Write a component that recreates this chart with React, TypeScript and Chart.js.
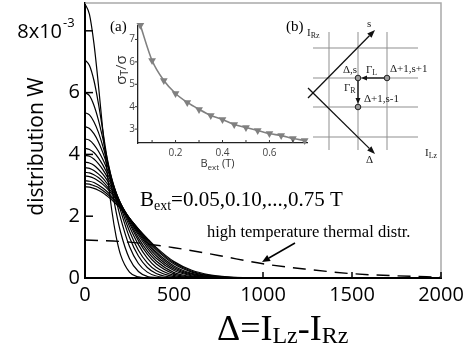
import React, { useEffect, useRef } from 'react';
import { Chart, registerables } from 'chart.js';
Chart.register(...registerables);

// ---------- data ----------
const deltaGrid = [0, 25, 50, 75, 100, 125, 150, 175, 200, 250, 300, 350, 400, 500, 600, 700, 800, 900, 1000, 2000];
const W_B005 = [8.87, 8.53, 7.6, 6.27, 4.78, 3.38, 2.21, 1.34, 0.75, 0.19, 0.034, 0.005, 0, 0, 0, 0, 0, 0, 0, 0];
const W_B010 = [7.05, 6.88, 6.4, 5.66, 4.77, 3.83, 2.93, 2.13, 1.48, 0.62, 0.21, 0.05, 0.014, 0, 0, 0, 0, 0, 0, 0];
const W_B015 = [6.0, 5.9, 5.59, 5.12, 4.52, 3.86, 3.18, 2.52, 1.94, 1.02, 0.47, 0.19, 0.065, 0.005, 0, 0, 0, 0, 0, 0];
const W_B020 = [5.35, 5.28, 5.06, 4.72, 4.27, 3.77, 3.23, 2.69, 2.18, 1.31, 0.71, 0.34, 0.147, 0.019, 0.002, 0, 0, 0, 0, 0];
const W_B025 = [4.9, 4.84, 4.67, 4.41, 4.06, 3.65, 3.21, 2.75, 2.31, 1.51, 0.9, 0.49, 0.24, 0.044, 0.006, 0, 0, 0, 0, 0];
const W_B030 = [4.5, 4.46, 4.32, 4.11, 3.84, 3.51, 3.15, 2.76, 2.38, 1.67, 1.08, 0.64, 0.35, 0.084, 0.015, 0.002, 0, 0, 0, 0];
const W_B035 = [4.2, 4.16, 4.06, 3.89, 3.66, 3.38, 3.08, 2.75, 2.41, 1.77, 1.21, 0.77, 0.46, 0.13, 0.029, 0.005, 0.001, 0, 0, 0];
const W_B040 = [3.97, 3.94, 3.85, 3.7, 3.51, 3.27, 3.01, 2.72, 2.42, 1.83, 1.3, 0.87, 0.55, 0.18, 0.046, 0.009, 0.001, 0, 0, 0];
const W_B045 = [3.75, 3.72, 3.65, 3.52, 3.36, 3.16, 2.92, 2.67, 2.41, 1.88, 1.39, 0.97, 0.64, 0.24, 0.07, 0.017, 0.003, 0, 0, 0];
const W_B050 = [3.57, 3.55, 3.48, 3.37, 3.23, 3.05, 2.85, 2.63, 2.39, 1.91, 1.45, 1.05, 0.72, 0.29, 0.097, 0.026, 0.006, 0.001, 0, 0];
const W_B055 = [3.42, 3.4, 3.34, 3.25, 3.12, 2.96, 2.78, 2.58, 2.37, 1.93, 1.5, 1.11, 0.79, 0.34, 0.125, 0.038, 0.01, 0.002, 0, 0];
const W_B060 = [3.3, 3.28, 3.23, 3.14, 3.03, 2.89, 2.72, 2.54, 2.34, 1.93, 1.53, 1.16, 0.84, 0.39, 0.152, 0.05, 0.014, 0.003, 0.001, 0];
const W_B065 = [3.15, 3.13, 3.09, 3.01, 2.91, 2.79, 2.64, 2.48, 2.31, 1.94, 1.56, 1.21, 0.91, 0.45, 0.19, 0.069, 0.021, 0.006, 0.001, 0];
const W_B070 = [3.05, 3.04, 2.99, 2.93, 2.83, 2.72, 2.59, 2.44, 2.28, 1.93, 1.58, 1.25, 0.95, 0.49, 0.22, 0.085, 0.028, 0.008, 0.002, 0];
const W_B075 = [2.95, 2.94, 2.9, 2.84, 2.76, 2.65, 2.53, 2.39, 2.24, 1.92, 1.59, 1.28, 0.99, 0.53, 0.25, 0.104, 0.037, 0.012, 0.003, 0];
const curves = [W_B005, W_B010, W_B015, W_B020, W_B025, W_B030, W_B035, W_B040, W_B045, W_B050, W_B055, W_B060, W_B065, W_B070, W_B075];

const thermalDelta = [0, 250, 500, 750, 1000, 1250, 1500, 1750, 2000];
const thermalW = [1.23, 1.16, 0.98, 0.73, 0.46, 0.28, 0.14, 0.07, 0.03];

const xTicks = [0, 500, 1000, 1500, 2000];
const yTicks = [0, 2, 4, 6, 8];

const bExt = [0.05, 0.1, 0.15, 0.2, 0.25, 0.3, 0.35, 0.4, 0.45, 0.5, 0.55, 0.6, 0.65, 0.7, 0.75];
const sigmaRatio = [7.63, 6.06, 5.17, 4.59, 4.19, 3.88, 3.61, 3.43, 3.21, 3.07, 2.94, 2.8, 2.71, 2.58, 2.49];
const insetXTicks = [0.1, 0.2, 0.3, 0.4, 0.5, 0.6, 0.7];
const insetXLabels = [0.2, 0.4, 0.6];
const insetYTicks = [3, 4, 5, 6, 7];

// ---------- helpers ----------
const SERIF = '"Liberation Serif", "Times New Roman", serif';
const SANS = '"Open Sans", "DejaVu Sans", sans-serif';

type Part = { t: string; font: string; dy?: number };
function richWidth(ctx: CanvasRenderingContext2D, parts: Part[]) {
  let w = 0;
  for (const p of parts) { ctx.font = p.font; w += ctx.measureText(p.t).width; }
  return w;
}
function drawRich(ctx: CanvasRenderingContext2D, parts: Part[], x: number, y: number, align = 'left') {
  ctx.textAlign = 'left';
  ctx.textBaseline = 'alphabetic';
  let cx = align === 'center' ? x - richWidth(ctx, parts) / 2 : x;
  for (const p of parts) {
    ctx.font = p.font;
    ctx.fillText(p.t, cx, y + (p.dy || 0));
    cx += ctx.measureText(p.t).width;
  }
}
function line(ctx: CanvasRenderingContext2D, x1: number, y1: number, x2: number, y2: number) {
  ctx.beginPath(); ctx.moveTo(x1, y1); ctx.lineTo(x2, y2); ctx.stroke();
}
function arrow(ctx: CanvasRenderingContext2D, x1: number, y1: number, x2: number, y2: number, hl = 7, hw = 3) {
  const ang = Math.atan2(y2 - y1, x2 - x1);
  const bx = x2 - hl * Math.cos(ang), by = y2 - hl * Math.sin(ang);
  line(ctx, x1, y1, bx, by);
  ctx.beginPath();
  ctx.moveTo(x2, y2);
  ctx.lineTo(bx + hw * Math.sin(ang), by - hw * Math.cos(ang));
  ctx.lineTo(bx - hw * Math.sin(ang), by + hw * Math.cos(ang));
  ctx.closePath();
  ctx.fill();
}

// ---------- main decorations ----------
const mainDecor = {
  id: 'mainDecor',
  afterDraw(chart: any) {
    const { ctx, chartArea: a, scales } = chart;
    const x = scales.x, y = scales.y;
    const py = (v: number) => y.getPixelForValue(v);
    const px = (v: number) => x.getPixelForValue(v);
    ctx.save();
    // gray frame top / right
    ctx.strokeStyle = '#a9a9a9';
    ctx.lineWidth = 1.5;
    ctx.beginPath(); ctx.moveTo(a.left, a.top); ctx.lineTo(a.right, a.top); ctx.lineTo(a.right, a.bottom); ctx.stroke();
    // inward ticks
    ctx.strokeStyle = '#000';
    ctx.lineWidth = 1.5;
    for (const v of yTicks) if (v > 0) line(ctx, a.left, py(v), a.left + 8, py(v));
    for (const v of xTicks) if (v > 0) line(ctx, px(v), a.bottom, px(v), a.bottom - 6);
    ctx.fillStyle = '#000';
    // 8x10^-3
    ctx.textBaseline = 'alphabetic';
    ctx.textAlign = 'right';
    ctx.font = `20px ${SANS}`;
    ctx.fillText('8x10', a.left - 23, py(8) + 7);
    ctx.textAlign = 'left';
    ctx.font = `13px ${SANS}`;
    ctx.fillText('-3', a.left - 22, py(8) - 4);
    // y title
    ctx.save();
    ctx.translate(43, (a.top + a.bottom) / 2 + 6);
    ctx.rotate(-Math.PI / 2);
    ctx.textAlign = 'center';
    ctx.font = `21px ${SANS}`;
    ctx.fillText('distribution W', 0, 0);
    ctx.restore();
    // x title
    drawRich(ctx, [
      { t: '\u0394=I', font: `36px ${SERIF}` },
      { t: 'Lz', font: `24px ${SERIF}`, dy: 3 },
      { t: '-I', font: `36px ${SERIF}` },
      { t: 'Rz', font: `24px ${SERIF}`, dy: 3 },
    ], 217, 340);
    // B_ext annotation
    drawRich(ctx, [
      { t: 'B', font: `21px ${SERIF}` },
      { t: 'ext', font: `14px ${SERIF}`, dy: 4 },
      { t: '=0.05,0.10,...,0.75 T', font: `21px ${SERIF}` },
    ], 140, 206);
    // high temperature annotation
    drawRich(ctx, [{ t: 'high temperature thermal distr.', font: `16.5px ${SERIF}` }], 207, 237);
    ctx.lineWidth = 1.5;
    arrow(ctx, 295, 243, 262, 262, 8, 3.5);
    // panel labels
    drawRich(ctx, [{ t: '(a)', font: `15px ${SERIF}` }], 110, 31);
    drawRich(ctx, [{ t: '(b)', font: `15px ${SERIF}` }], 286, 31);

    // ---- schematic (b) ----
    ctx.strokeStyle = '#8f8f8f';
    ctx.lineWidth = 1;
    for (const gx of [329, 358, 387]) line(ctx, gx, 32, gx, 150);
    for (const gy of [48, 78, 107, 137]) line(ctx, 313, gy, 418, gy);
    ctx.strokeStyle = '#111';
    ctx.fillStyle = '#111';
    ctx.lineWidth = 1.3;
    arrow(ctx, 308, 98, 375, 30, 8, 3);
    arrow(ctx, 308, 88, 375, 154, 8, 3);
    arrow(ctx, 384, 78, 361, 78, 6, 2.5);
    arrow(ctx, 358, 81, 358, 104, 6, 2.5);
    for (const [cx, cy] of [[358, 78], [387, 78], [358, 107]]) {
      ctx.beginPath();
      ctx.arc(cx, cy, 2.8, 0, Math.PI * 2);
      ctx.fillStyle = '#9a9a9a';
      ctx.fill();
      ctx.strokeStyle = '#222';
      ctx.lineWidth = 1;
      ctx.stroke();
    }
    ctx.fillStyle = '#222';
    const f11 = `11px ${SERIF}`;
    const f8 = `8px ${SERIF}`;
    drawRich(ctx, [{ t: 's', font: f11 }], 367, 27);
    drawRich(ctx, [{ t: '\u0394', font: f11 }], 366, 163);
    drawRich(ctx, [{ t: '\u0394,s', font: f11 }], 343, 73);
    drawRich(ctx, [{ t: '\u0394+1,s+1', font: f11 }], 390, 72);
    drawRich(ctx, [{ t: '\u0394+1,s-1', font: f11 }], 364, 102);
    drawRich(ctx, [{ t: '\u0393', font: f11 }, { t: 'L', font: f8, dy: 2 }], 366, 73);
    drawRich(ctx, [{ t: '\u0393', font: f11 }, { t: 'R', font: f8, dy: 2 }], 344, 91);
    drawRich(ctx, [{ t: 'I', font: f11 }, { t: 'Rz', font: f8, dy: 2 }], 307, 36);
    drawRich(ctx, [{ t: 'I', font: f11 }, { t: 'Lz', font: f8, dy: 2 }], 425, 156);
    ctx.restore();
  },
};

// ---------- inset decorations ----------
const insetDecor = {
  id: 'insetDecor',
  afterDraw(chart: any) {
    const { ctx, chartArea: a, scales } = chart;
    const x = scales.x, y = scales.y;
    ctx.save();
    ctx.strokeStyle = '#333';
    ctx.lineWidth = 1;
    for (const v of insetXTicks) line(ctx, x.getPixelForValue(v), a.bottom, x.getPixelForValue(v), a.bottom - 3);
    for (const v of insetYTicks) line(ctx, a.left - 3, y.getPixelForValue(v), a.left, y.getPixelForValue(v));
    ctx.fillStyle = '#333';
    ctx.save();
    ctx.translate(a.left - 12, a.top + 44);
    ctx.rotate(-Math.PI / 2);
    const parts: Part[] = [
      { t: '\u03C3', font: `15px ${SANS}` },
      { t: 'T', font: `10px ${SANS}`, dy: 2 },
      { t: '/\u03C3', font: `15px ${SANS}` },
    ];
    drawRich(ctx, parts, 0, 0, 'center');
    ctx.restore();
    drawRich(ctx, [
      { t: 'B', font: `11px ${SANS}` },
      { t: 'ext', font: `8px ${SANS}`, dy: 3 },
      { t: ' (T)', font: `11px ${SANS}` },
    ], (a.left + a.right) / 2 - 5, a.bottom + 24, 'center');
    ctx.restore();
  },
};

export default function App() {
  const mainRef = useRef<HTMLCanvasElement>(null);
  const insetRef = useRef<HTMLCanvasElement>(null);

  useEffect(() => {
    const datasets: any[] = curves.map((c) => ({
      data: deltaGrid.map((d, i) => ({ x: d, y: c[i] })),
      borderColor: '#000',
      borderWidth: 1.2,
      pointRadius: 0,
      fill: false,
      cubicInterpolationMode: 'monotone',
    }));
    datasets.push({
      data: thermalDelta.map((d, i) => ({ x: d, y: thermalW[i] })),
      borderColor: '#000',
      borderWidth: 1.4,
      borderDash: [13, 8],
      pointRadius: 0,
      fill: false,
      cubicInterpolationMode: 'monotone',
    });

    const main = new Chart(mainRef.current!, {
      type: 'line',
      data: { datasets },
      options: {
        animation: false,
        responsive: false,
        events: [],
        layout: { padding: { top: 3, right: 32, left: 0, bottom: 0 } },
        plugins: { legend: { display: false }, tooltip: { enabled: false } },
        scales: {
          x: {
            type: 'linear',
            min: 0,
            max: 2000,
            afterBuildTicks: (s: any) => { s.ticks = xTicks.map((v) => ({ value: v })); },
            afterFit: (s: any) => { s.height = 68; s.paddingLeft = 0; s.paddingRight = 0; },
            grid: { display: false, drawTicks: false },
            border: { display: true, color: '#000', width: 2 },
            ticks: {
              font: { family: SANS, size: 20 },
              color: '#000',
              padding: 5,
              maxRotation: 0,
              autoSkip: false,
              callback: (v: any) => String(v),
            },
          },
          y: {
            type: 'linear',
            min: 0,
            max: 8.9,
            afterBuildTicks: (s: any) => { s.ticks = yTicks.map((v) => ({ value: v })); },
            afterFit: (s: any) => { s.width = 85; s.paddingTop = 0; s.paddingBottom = 0; },
            grid: { display: false, drawTicks: false },
            border: { display: true, color: '#000', width: 2 },
            ticks: {
              font: { family: SANS, size: 20 },
              color: '#000',
              padding: 5,
              callback: (v: any) => (v === 8 ? '' : String(v)),
            },
          },
        },
      },
      plugins: [mainDecor],
    } as any);

    const inset = new Chart(insetRef.current!, {
      type: 'line',
      data: {
        datasets: [{
          data: bExt.map((b, i) => ({ x: b, y: sigmaRatio[i] })),
          borderColor: '#808080',
          backgroundColor: '#808080',
          borderWidth: 1.6,
          pointStyle: 'triangle',
          pointRotation: 180,
          pointRadius: 4.5,
          pointBorderWidth: 0,
          cubicInterpolationMode: 'monotone',
          clip: false,
        }],
      },
      options: {
        animation: false,
        responsive: false,
        events: [],
        layout: { padding: { top: 16, right: 8, left: 0, bottom: 0 } },
        plugins: { legend: { display: false }, tooltip: { enabled: false } },
        scales: {
          x: {
            type: 'linear',
            min: 0.04,
            max: 0.76,
            afterBuildTicks: (s: any) => { s.ticks = insetXTicks.map((v) => ({ value: v })); },
            afterFit: (s: any) => { s.height = 32; s.paddingLeft = 0; s.paddingRight = 0; },
            grid: { display: false, drawTicks: false },
            border: { display: true, color: '#222', width: 1.3 },
            ticks: {
              font: { family: SANS, size: 10 },
              color: '#444',
              padding: 4,
              maxRotation: 0,
              autoSkip: false,
              callback: (v: any) => (insetXLabels.some((l) => Math.abs(l - v) < 1e-6) ? Number(v).toFixed(1) : ''),
            },
          },
          y: {
            type: 'linear',
            min: 2.38,
            max: 7.6,
            afterBuildTicks: (s: any) => { s.ticks = insetYTicks.map((v) => ({ value: v })); },
            afterFit: (s: any) => { s.width = 43; s.paddingTop = 0; s.paddingBottom = 0; },
            grid: { display: false, drawTicks: false },
            border: { display: true, color: '#222', width: 1.3 },
            ticks: { font: { family: SANS, size: 10 }, color: '#444', padding: 3 },
          },
        },
      },
      plugins: [insetDecor],
    } as any);

    return () => { main.destroy(); inset.destroy(); };
  }, []);

  return (
    <div style={{ position: 'fixed', left: 0, top: 0, width: 473, height: 346, background: '#fff' }}>
      <canvas ref={mainRef} width={473} height={346} style={{ position: 'absolute', left: 0, top: 0, width: 473, height: 346 }} />
      <canvas ref={insetRef} width={220} height={165} style={{ position: 'absolute', left: 95, top: 10, width: 220, height: 165 }} />
    </div>
  );
}
